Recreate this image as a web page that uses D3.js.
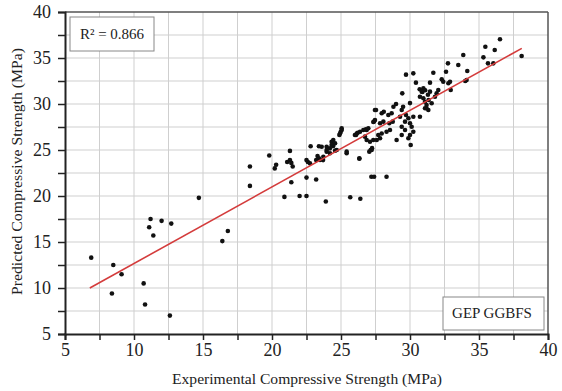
<!DOCTYPE html>
<html><head><meta charset="utf-8">
<script src="https://cdn.jsdelivr.net/npm/d3@7"></script>
<style>body{margin:0;background:#fff;}svg{display:block;}</style>
</head><body>
<svg id="c" width="562" height="391"></svg>
<script>
const xTicks = [5,10,15,20,25,30,35,40];
const yTicks = [5,10,15,20,25,30,35,40];
const gridStep = 2.5;
const fitLine = [[6.8,10.0],[38.1,36.05]];
const r2Label = "R² = 0.866";
const modelLabel = "GEP GGBFS";
const xTitle = "Experimental Compressive Strength (MPa)";
const yTitle = "Predicted Compressive Strength (MPa)";
const experimental = [
6.9,8.5,9.1,8.4,10.7,10.8,12.6,11.2,11.1,11.4,12.0,12.7,14.7,16.4,16.8,18.4,18.4,19.8,20.2,20.3,
21.3,21.1,21.3,21.4,21.5,21.4,20.9,22.0,22.5,22.5,23.2,23.9,22.8,23.4,22.5,22.6,22.75,23.2,23.4,23.7,23.3,23.96,23.96,24.2,24.32,24.44,24.57,24.69,24.88,24.98,25.05,25.41,25.67,26.4,26.09,26.21,26.33,26.8,27.15,27.25,27.2,27.4,28.3,
24.44,24.57,24.32,24.2,23.96,23.6,23.72,23.48,25.41,26.33,25.05,24.93,26.86,26.98,26.62,26.38,26.14,26.01,26.86,26.74,27.7,27.83,27.95,27.59,27.34,27.1,27.22,27.05,28.55,28.3,29.4,29.03,30.0,29.88,30.05,29.4,29.64,30.12,30.24,29.28,29.71,29.88,29.64,30.0,30.24,27.83,28.07,28.5,28.75,27.46,27.34,27.54,28.43,28.67,27.95,28.1,28.8,28.99,29.5,29.4,30.0,31.35,31.2,29.44,29.71,30.24,30.43,30.7,30.9,31.1,31.3,27.46,27.4,
36.52,35.46,36.14,38.09,35.32,35.65,36.04,33.86,33.5,34.15,32.75,32.61,31.69,32.3,32.41,32.78,32.9,34.1,31.45,30.97,30.85,31.45,32.05,31.93,31.81,32.95,30.72,30.97,31.09,31.2,31.09,31.33,31.57,30.72,34.0
];
const predicted = [
13.3,12.5,11.5,9.4,10.5,8.2,7.0,17.5,16.6,15.7,17.3,17.0,19.8,15.1,16.2,23.2,21.1,24.4,23.0,23.4,
24.9,23.7,23.9,23.6,23.2,21.5,19.9,20.0,20.0,22.0,21.8,19.4,25.4,25.4,23.9,23.7,23.55,23.9,24.1,23.9,24.35,25.36,24.82,24.64,25.9,25.43,24.93,25.0,26.63,26.99,27.36,24.64,19.86,19.7,26.63,26.88,24.05,27.25,25.0,25.2,22.1,22.1,22.1,
26.09,25.73,25.54,25.18,25.0,25.36,24.27,23.91,24.82,24.1,27.17,26.8,27.17,27.36,27.17,26.99,26.8,26.63,26.09,26.45,26.63,26.27,26.8,26.09,26.09,25.9,25.0,24.82,27.17,26.99,26.63,26.09,26.63,26.27,25.54,27.53,27.17,27.53,26.99,28.62,28.8,28.45,28.08,27.9,28.62,27.9,28.08,27.9,28.08,28.26,28.04,29.35,28.8,29.0,29.0,29.16,29.7,30.0,29.7,29.35,30.1,30.43,29.53,31.16,33.19,33.33,32.32,31.6,31.3,31.5,31.0,29.35,28.1,
37.03,36.23,35.87,35.22,35.07,34.42,34.42,35.33,34.24,33.59,34.42,33.51,33.4,32.68,32.42,32.25,32.42,32.6,32.32,31.7,31.34,31.34,31.52,31.16,30.79,31.52,30.79,30.62,30.25,29.89,29.53,29.35,30.08,28.62,32.5
];

const svg = d3.select("#c");
const L = 65, R = 548, T = 12, B = 334;
const x = d3.scaleLinear().domain([5,40]).range([L,R]);
const y = d3.scaleLinear().domain([5,40]).range([B,T]);
const font = "'Liberation Serif', 'Times New Roman', serif";
const grid = d3.range(5, 40.001, gridStep);

// grid
svg.append("g").selectAll("line.v").data(grid.filter(d=>d>5 && d<40)).join("line")
  .attr("x1",d=>x(d)).attr("x2",d=>x(d)).attr("y1",T).attr("y2",B)
  .attr("stroke","#cfcfcf").attr("stroke-width",1);
svg.append("g").selectAll("line.h").data(grid.filter(d=>d>5 && d<40)).join("line")
  .attr("y1",d=>y(d)).attr("y2",d=>y(d)).attr("x1",L).attr("x2",R)
  .attr("stroke","#cfcfcf").attr("stroke-width",1);

// frame top/right
svg.append("line").attr("x1",L).attr("x2",R).attr("y1",T).attr("y2",T).attr("stroke","#555").attr("stroke-width",1.5);
svg.append("line").attr("x1",R).attr("x2",R).attr("y1",T).attr("y2",B).attr("stroke","#555").attr("stroke-width",1.5);

// axes
const xAxis = d3.axisBottom(x).tickValues(grid).tickSize(6).tickFormat(d => xTicks.includes(d) ? d : "");
const gx = svg.append("g").attr("transform",`translate(0,${B})`).call(xAxis);
gx.select(".domain").attr("stroke","#222").attr("stroke-width",2);
gx.selectAll(".tick line").attr("stroke","#222").attr("stroke-width",1.5);
gx.selectAll(".tick text").attr("font-family",font).attr("font-size",18).attr("fill","#222").attr("dy","0.9em").attr("y",6);

const yAxis = d3.axisLeft(y).tickValues(grid).tickSize(7).tickFormat(d => yTicks.includes(d) ? d : "");
const gy = svg.append("g").attr("transform",`translate(${L},0)`).call(yAxis);
gy.select(".domain").attr("stroke","#222").attr("stroke-width",2);
gy.selectAll(".tick line").attr("stroke","#222").attr("stroke-width",1.5);
gy.selectAll(".tick text").attr("font-family",font).attr("font-size",18).attr("fill","#222").attr("x",-14);

// points
const pts = experimental.map((v,i)=>[v,predicted[i]]);
svg.append("g").selectAll("circle").data(pts).join("circle")
  .attr("cx",d=>x(d[0])).attr("cy",d=>y(d[1])).attr("r",2.3).attr("fill","#111");

// fit line
svg.append("line")
  .attr("x1",x(fitLine[0][0])).attr("y1",y(fitLine[0][1]))
  .attr("x2",x(fitLine[1][0])).attr("y2",y(fitLine[1][1]))
  .attr("stroke","#d43c3c").attr("stroke-width",1.6);

// R2 box
svg.append("rect").attr("x",70).attr("y",17).attr("width",84).attr("height",34)
  .attr("fill","#fff").attr("stroke","#888").attr("stroke-width",1);
svg.append("text").attr("x",112).attr("y",39).attr("text-anchor","middle")
  .attr("font-family",font).attr("font-size",15).attr("fill","#222").text(r2Label);

// model box
svg.append("rect").attr("x",443).attr("y",297).attr("width",101).attr("height",33)
  .attr("fill","#fff").attr("stroke","#888").attr("stroke-width",1);
svg.append("text").attr("x",492).attr("y",318).attr("text-anchor","middle")
  .attr("font-family",font).attr("font-size",15).attr("fill","#222").text(modelLabel);

// titles
svg.append("text").attr("x",307).attr("y",384).attr("text-anchor","middle")
  .attr("font-family",font).attr("font-size",15).attr("fill","#222")
  .attr("textLength",270).attr("lengthAdjust","spacingAndGlyphs").text(xTitle);
svg.append("text").attr("transform","translate(22,171.5) rotate(-90)").attr("text-anchor","middle")
  .attr("font-family",font).attr("font-size",15).attr("fill","#222")
  .attr("textLength",247).attr("lengthAdjust","spacingAndGlyphs").text(yTitle);
</script>
</body></html>
